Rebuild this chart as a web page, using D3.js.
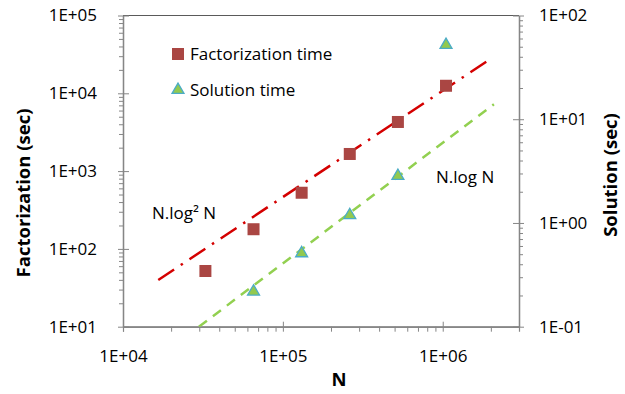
<!DOCTYPE html>
<html>
<head>
<meta charset="utf-8">
<script src="https://cdn.jsdelivr.net/npm/d3@7"></script>
<style>
  html, body { margin: 0; padding: 0; background: #fff; }
  svg { display: block; }
  text { font-family: "Open Sans", Lato, sans-serif; fill: #000; }
</style>
</head>
<body>
<svg id="chart" width="625" height="394"></svg>
<script>
// Problem size N (powers of two)
const sizes = [32768, 65536, 131072, 262144, 524288, 1048576];
// Factorization time (sec), left axis
const factorTimes = [52, 179, 527, 1660, 4280, 12500];
// Solution time (sec), right axis; first size has no solve measurement
const solveSizes = [65536, 131072, 262144, 524288, 1048576];
const solveTimes = [0.218, 0.51, 1.19, 2.84, 52];
// Reference trend lines: endpoints [N, time]
const factorTrend = [[16620, 39.8], [1.9e6, 26000]];
const solveTrend = [[29850, 0.1], [2.09e6, 13.95]];
// Axis ticks
const xMajor = [1e4, 1e5, 1e6];
const xMinor = [2e4, 3e4, 4e4, 5e4, 6e4, 7e4, 8e4, 9e4, 2e5, 3e5, 4e5, 5e5, 6e5, 7e5, 8e5, 9e5, 2e6];
const yLeftMajor = [1e1, 1e2, 1e3, 1e4, 1e5];
const yRightMajor = [1e-1, 1e0, 1e1, 1e2];

const svg = d3.select("#chart");
const L = 123, R = 519, T = 15.5, B = 326.7;

const x = d3.scaleLog().domain([1e4, 3e6]).range([L, R]);
const yL = d3.scaleLog().domain([1e1, 1e5]).range([B, T]);
const yR = d3.scaleLog().domain([1e-1, 1e2]).range([B, T]);

const sci = d => {
  const e = Math.round(Math.log10(d));
  return "1E" + (e < 0 ? "-" : "+") + String(Math.abs(e)).padStart(2, "0");
};
const minorOf = (domain) => {
  const out = [];
  const lo = Math.floor(Math.log10(domain[0])), hi = Math.ceil(Math.log10(domain[1]));
  for (let e = lo; e < hi; e++) for (let m = 2; m <= 9; m++) {
    const v = m * Math.pow(10, e);
    if (v > domain[0] * 1.0001 && v < domain[1] * 0.9999) out.push(v);
  }
  return out;
};

const axisColor = "#868686";
const labelFont = "17px";
const titleFont = "18.5px";

// Clip region for the plot area
svg.append("defs").append("clipPath").attr("id", "plot-clip")
  .append("rect").attr("x", L).attr("y", T).attr("width", R - L).attr("height", B - T);

// Top border of the plot area
svg.append("line").attr("x1", L).attr("x2", R).attr("y1", T).attr("y2", T)
  .attr("stroke", "#5a5a5a").attr("stroke-width", 1);

function styleAxis(g) {
  g.select(".domain").attr("stroke", axisColor).attr("stroke-width", 1.2);
  g.selectAll(".tick line").attr("stroke", axisColor).attr("stroke-width", 1);
  g.selectAll(".tick text").style("font-family", "'Open Sans', Lato, sans-serif")
    .style("font-size", labelFont).attr("fill", "#000");
}

// X axis: minor ticks outward, major ticks crossing
svg.append("g").attr("transform", `translate(0,${B})`)
  .call(d3.axisBottom(x).tickValues(xMinor).tickSize(5).tickFormat(""))
  .call(styleAxis);
svg.append("g").attr("transform", `translate(0,${B})`)
  .call(d3.axisTop(x).tickValues(xMajor).tickSize(5).tickSizeOuter(0).tickFormat(""))
  .call(styleAxis);
svg.append("g").attr("transform", `translate(0,${B})`)
  .call(d3.axisBottom(x).tickValues(xMajor).tickSize(5).tickSizeOuter(0).tickPadding(18).tickFormat(sci))
  .call(styleAxis);

// Left axis
svg.append("g").attr("transform", `translate(${L},0)`)
  .call(d3.axisLeft(yL).tickValues(minorOf(yL.domain())).tickSize(4).tickSizeOuter(0).tickFormat(""))
  .call(styleAxis);
svg.append("g").attr("transform", `translate(${L},0)`)
  .call(d3.axisRight(yL).tickValues(yLeftMajor).tickSize(6).tickSizeOuter(0).tickFormat(""))
  .call(styleAxis);
svg.append("g").attr("transform", `translate(${L},0)`)
  .call(d3.axisLeft(yL).tickValues(yLeftMajor).tickSize(5).tickSizeOuter(0).tickPadding(21).tickFormat(sci))
  .call(styleAxis);

// Right axis
svg.append("g").attr("transform", `translate(${R},0)`)
  .call(d3.axisRight(yR).tickValues(minorOf(yR.domain())).tickSize(4).tickSizeOuter(0).tickFormat(""))
  .call(styleAxis);
svg.append("g").attr("transform", `translate(${R},0)`)
  .call(d3.axisLeft(yR).tickValues(yRightMajor).tickSize(6).tickSizeOuter(0).tickFormat(""))
  .call(styleAxis);
svg.append("g").attr("transform", `translate(${R},0)`)
  .call(d3.axisRight(yR).tickValues(yRightMajor).tickSize(5).tickSizeOuter(0).tickPadding(15).tickFormat(sci))
  .call(styleAxis);

// Trend lines
const plot = svg.append("g").attr("clip-path", "url(#plot-clip)");
plot.append("path").datum(factorTrend)
  .attr("d", d3.line().x(d => x(d[0])).y(d => yL(d[1])))
  .attr("fill", "none").attr("stroke", "#d40000").attr("stroke-width", 2.5)
  .attr("stroke-dasharray", "19,8,2.5,8");
plot.append("path").datum(solveTrend)
  .attr("d", d3.line().x(d => x(d[0])).y(d => yR(d[1])))
  .attr("fill", "none").attr("stroke", "#92d050").attr("stroke-width", 2.5)
  .attr("stroke-dasharray", "10,7.5");

// Markers
const sq = 12;
const squareColor = "#aa4643";
svg.append("g").selectAll("rect").data(sizes.map((n, i) => [n, factorTimes[i]]))
  .join("rect")
  .attr("x", d => x(d[0]) - sq / 2).attr("y", d => yL(d[1]) - sq / 2)
  .attr("width", sq).attr("height", sq).attr("fill", squareColor);

const tri = d3.symbol().type(d3.symbolTriangle).size(62);
const triFill = "#92c94f", triStroke = "#4bacc6";
svg.append("g").selectAll("path").data(solveSizes.map((n, i) => [n, solveTimes[i]]))
  .join("path")
  .attr("transform", d => `translate(${x(d[0])},${yR(d[1])})`)
  .attr("d", tri).attr("fill", triFill).attr("stroke", triStroke).attr("stroke-width", 1.3);

// Legend
const legend = svg.append("g");
legend.append("rect").attr("x", 178 - sq / 2).attr("y", 54 - sq / 2).attr("width", sq).attr("height", sq).attr("fill", squareColor);
legend.append("text").attr("x", 190).attr("y", 54).attr("dy", "0.35em").style("font-size", labelFont).text("Factorization time");
legend.append("path").attr("transform", "translate(178,90)").attr("d", tri).attr("fill", triFill).attr("stroke", triStroke).attr("stroke-width", 1.3);
legend.append("text").attr("x", 190).attr("y", 90).attr("dy", "0.35em").style("font-size", labelFont).text("Solution time");

// Annotations
svg.append("text").attr("x", 152).attr("y", 213).attr("dy", "0.35em").style("font-size", labelFont).text("N.log² N");
svg.append("text").attr("x", 436).attr("y", 177).attr("dy", "0.35em").style("font-size", labelFont).text("N.log N");

// Axis titles
svg.append("text").attr("x", 339).attr("y", 380).attr("dy", "0.35em").attr("text-anchor", "middle")
  .style("font-size", titleFont).style("font-weight", "bold").text("N");
svg.append("text").attr("transform", "translate(24,193) rotate(-90)").attr("dy", "0.35em").attr("text-anchor", "middle")
  .style("font-size", titleFont).style("font-weight", "bold").text("Factorization (sec)");
svg.append("text").attr("transform", "translate(611,175) rotate(-90)").attr("dy", "0.35em").attr("text-anchor", "middle")
  .style("font-size", titleFont).style("font-weight", "bold").text("Solution (sec)");
</script>
</body>
</html>
